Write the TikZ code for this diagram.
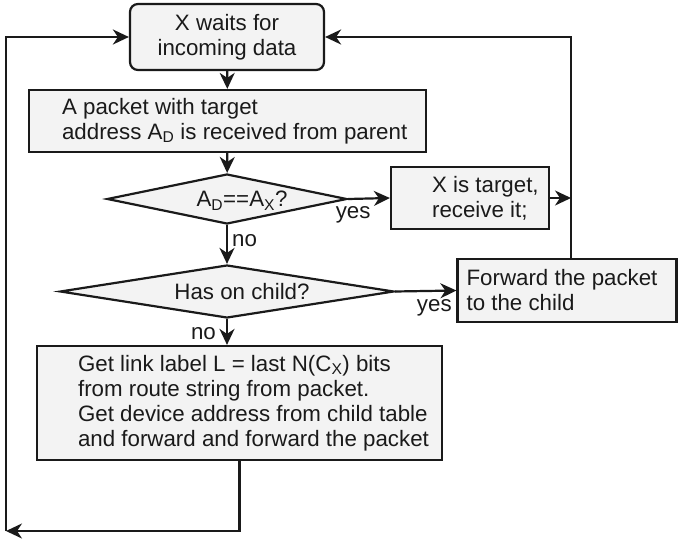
\documentclass[tikz,border=0pt]{standalone}
\usepackage{fontspec}
\setmainfont{Liberation Sans}
\usetikzlibrary{arrows.meta,positioning,shapes.geometric,calc}
\definecolor{LineBlack}{RGB}{26,26,26}
\definecolor{BoxGray}{RGB}{243,243,243}
\tikzset{
  every node/.style={font=\fontsize{22.3pt}{25pt}\selectfont,text=LineBlack},
  startbox/.style={draw=LineBlack,fill=BoxGray,line width=2.2pt,rounded corners=8pt,
    align=center,minimum width=194pt,minimum height=66pt},
  procbox/.style={draw=LineBlack,fill=BoxGray,line width=2.2pt},
  decision/.style={diamond,draw=LineBlack,fill=BoxGray,line width=2.2pt,inner sep=0pt},
  boxtext/.style={inner sep=0pt,align=left},
  lbl/.style={inner sep=0pt},
  flow/.style={-{Stealth[length=16pt,width=15pt,inset=5pt]},line width=2.2pt,draw=LineBlack},
  link/.style={line width=2.2pt,draw=LineBlack}
}

\begin{document}
\begin{tikzpicture}[x=1pt,y=-1pt]
\useasboundingbox (0,0) rectangle (678,541);

% boxes
\node[startbox] (wait) at (227,37) {X waits for\\ incoming data};
\node[procbox,minimum width=397pt,minimum height=62pt] (recv) at (227.5,121) {};
\node[decision,minimum width=240pt,minimum height=50pt] (q1) at (227,199) {};
\node[procbox,minimum width=158pt,minimum height=62pt] (target) at (470,198) {};
\node[decision,minimum width=334pt,minimum height=53pt] (q2) at (227,291.5) {};
\node[procbox,minimum width=219pt,minimum height=63pt] (forward) at (567,290.5) {};
\node[procbox,minimum width=405pt,minimum height=114pt] (route) at (239.5,403) {};

% texts
\node[boxtext,right=34pt of recv.west] (recvtext)
  {A packet with target\\ address A\textsubscript{D} is received from parent};
\node[lbl] (q1text) at ([xshift=15pt,yshift=-2pt]q1.center) {A\textsubscript{D}==A\textsubscript{X}?};
\node[boxtext,right=42pt of target.west] (targettext) {X is target,\\ receive it;};
\node[lbl] (q2text) at ([xshift=15pt]q2.center) {Has on child?};
\node[boxtext,right=10pt of forward.west] (forwardtext) {Forward the packet\\ to the child};
\node[boxtext,right=42pt of route.west] (routetext)
  {Get link label L = last N(C\textsubscript{X}) bits\\ from route string from packet.\\
   Get device address from child table\\ and forward and forward the packet};

% return lines
\coordinate (retR) at (571,37);
\coordinate (retL) at (6,531);

% connectors
\draw[flow] (wait) -- (recv);
\draw[flow] (recv) -- (q1);
\draw[flow] (q1.east) -- node[lbl,below=7pt,pos=0.12] (yes1) {yes} (target.west);
\draw[flow] (target.east) -- (target.east -| retR);
\draw[flow] (q1.south) -- node[lbl,right=4pt,pos=0.4] (no1) {no} (q2.north);
\draw[flow] (q2.east) -- node[lbl,below=8pt,pos=0.64] (yes2) {yes} (forward.west);
\draw[flow] (q2.south) -- node[lbl,left=10pt,pos=0.55] (no2) {no} (q2.south |- route.north);
\draw[flow] (retR |- forward.north) -- (retR) -- (wait.east);
\draw[flow] (route.south) |- (retL);
\draw[flow] (retL) |- (wait.west);

\end{tikzpicture}
\end{document}
